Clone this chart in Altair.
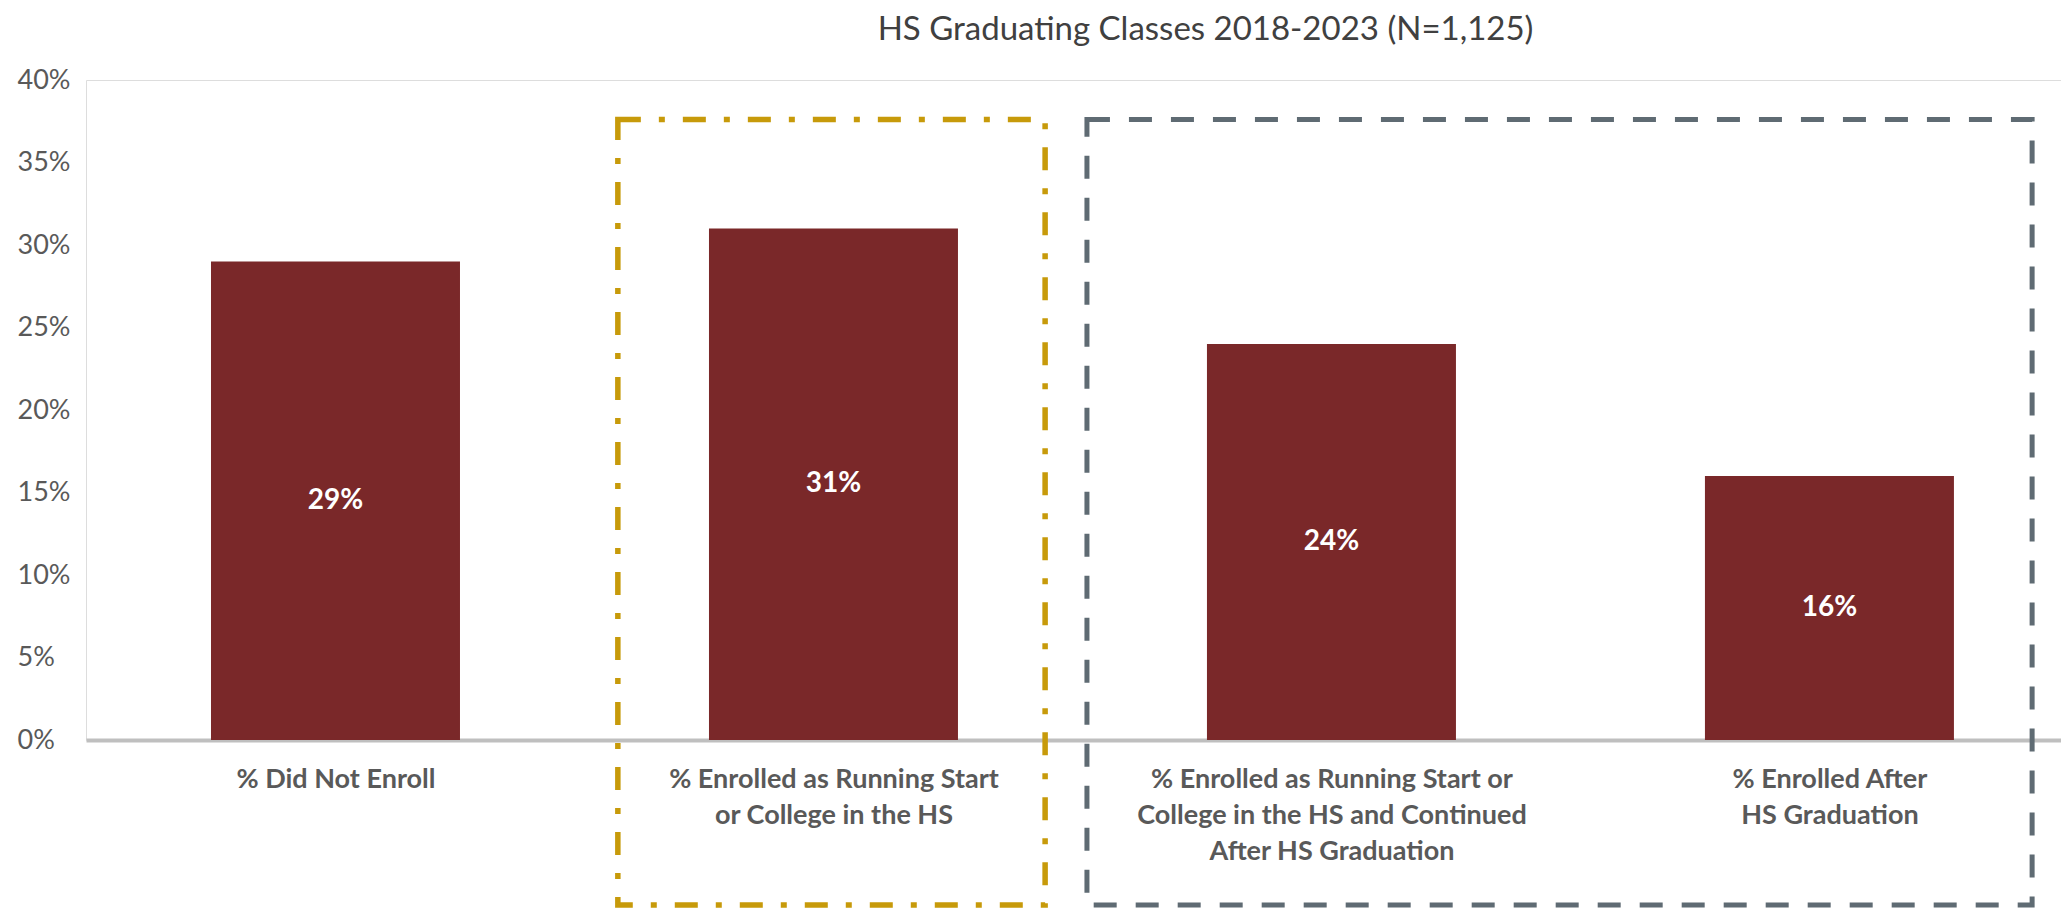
import json
import altair as alt
import pandas as pd

# ---- data ----
categories = [
    "% Did Not Enroll",
    "% Enrolled as Running Start\nor College in the HS",
    "% Enrolled as Running Start or\nCollege in the HS and Continued\nAfter HS Graduation",
    "% Enrolled After\nHS Graduation",
]
category_index = [0, 1, 2, 3]
values = [0.29, 0.31, 0.24, 0.16]
value_labels = ["29%", "31%", "24%", "16%"]
y_ticks = [0.0, 0.05, 0.10, 0.15, 0.20, 0.25, 0.30, 0.35, 0.40]

# annotation boxes, in category-index units (x) and share units (y)
box_names = ["Running Start / College in the HS", "Continued / After HS Graduation"]
box_x_start = [0.567, 1.509]
box_x_end = [1.425, 3.407]
box_y_top = [0.376, 0.376]
box_y_bottom = [-0.1, -0.1]
box_colors = ["#C79A0A", "#5F6B73"]
box_dashes = [[23, 18, 6, 18], [23, 19]]
box_widths = [5.5, 5]

title_text = "HS Graduating Classes 2018-2023 (N=1,125)"

FONT = "Lato, Liberation Sans, sans-serif"

bars_df = pd.DataFrame({"idx": category_index, "category": categories,
                        "value": values, "label": value_labels})
box_df = pd.DataFrame({"box": box_names, "x0": box_x_start, "x1": box_x_end,
                       "y0": box_y_bottom, "y1": box_y_top})

x_scale = alt.Scale(domain=[-0.501, 3.465], nice=False, zero=False)
y_scale = alt.Scale(domain=[0, 0.4], nice=False, zero=True)

label_expr = "split(" + json.dumps(categories) + "[datum.value], '\\n')"

x_axis = alt.Axis(
    title=None,
    values=category_index,
    labelAngle=0,
    labelExpr=label_expr,
    labelFont=FONT,
    labelFontSize=27,
    labelFontWeight="bold",
    labelColor="#595959",
    labelLineHeight=36,
    labelLimit=0,
    labelOverlap=False,
    labelFlush=False,
    labelPadding=26,
    labelBaseline="top",
    labelAlign="center",
    ticks=False,
    tickSize=0,
    domain=True,
    domainColor="#BFBFBF",
    domainWidth=4,
    grid=False,
)
y_axis = alt.Axis(
    title=None,
    values=y_ticks,
    format=".0%",
    labelFont=FONT,
    labelFontSize=27,
    labelColor="#595959",
    labelAlign="left",
    labelBaseline="middle",
    labelPadding=69,
    ticks=False,
    tickSize=0,
    domain=False,
    grid=False,
)

bars = (
    alt.Chart(bars_df)
    .transform_calculate(xa="datum.idx - 0.25", xb="datum.idx + 0.25")
    .mark_rect(color="#7A2829")
    .encode(
        x=alt.X("xa:Q", scale=x_scale, axis=x_axis),
        x2="xb:Q",
        y=alt.Y("value:Q", scale=y_scale, axis=y_axis),
        y2=alt.datum(0),
    )
)
labels = (
    alt.Chart(bars_df)
    .transform_calculate(mid="datum.value / 2")
    .mark_text(color="white", font=FONT, fontSize=28, fontWeight="bold", baseline="middle")
    .encode(x=alt.X("idx:Q"), y=alt.Y("mid:Q"), text="label:N")
)

box_layers = []
for i, name in enumerate(box_names):
    box_layers.append(
        alt.Chart(box_df)
        .transform_filter(alt.datum.box == name)
        .mark_rect(filled=False, fillOpacity=0, stroke=box_colors[i],
                   strokeWidth=box_widths[i], strokeDash=box_dashes[i])
        .encode(x=alt.X("x0:Q"), x2="x1:Q", y=alt.Y("y1:Q"), y2="y0:Q")
    )

chart = (
    alt.layer(bars, labels, *box_layers)
    .properties(
        width=1975,
        height=660,
        padding={"left": 9, "top": 6, "right": 0, "bottom": 0},
        title=alt.TitleParams(
            text=title_text,
            font=FONT,
            fontSize=33,
            fontWeight="normal",
            color="#404040",
            anchor="middle",
            frame="group",
            dx=132,
            offset=19,
        ),
    )
    .configure_axis(grid=False, ticks=False)
    .configure_view(strokeWidth=0, stroke="transparent")
    .configure(background="white")
)

chart.save("out.html", embed_options={"renderer": "svg", "actions": False})
